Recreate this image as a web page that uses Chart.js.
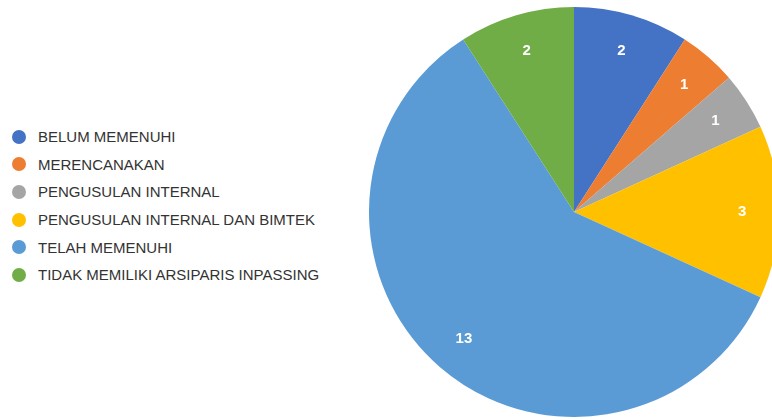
<!DOCTYPE html>
<html>
<head>
<meta charset="utf-8">
<script src="https://cdn.jsdelivr.net/npm/chart.js@4/dist/chart.umd.min.js"></script>
<style>
  html, body { margin: 0; padding: 0; width: 772px; height: 420px; overflow: hidden; background: #fff; }
  #legend { position: absolute; left: 12px; top: 123px; font-family: Arial, "Liberation Sans", sans-serif; font-size: 15px; color: #333; }
  #legend .item { height: 27.6px; display: flex; align-items: center; white-space: nowrap; }
  #legend .dot { width: 14px; height: 14px; border-radius: 50%; margin-right: 12px; flex: none; }
  #pie { position: absolute; left: 369px; top: 7px; }
</style>
</head>
<body>
<div id="legend"></div>
<canvas id="pie" width="410" height="410"></canvas>
<script>
const categories = [
    'BELUM MEMENUHI',
    'MERENCANAKAN',
    'PENGUSULAN INTERNAL',
    'PENGUSULAN INTERNAL DAN BIMTEK',
    'TELAH MEMENUHI',
    'TIDAK MEMILIKI ARSIPARIS INPASSING'
];
const counts = [2, 1, 1, 3, 13, 2];
const sliceColors = ['#4472C4', '#ED7D31', '#A5A5A5', '#FFC000', '#5B9BD5', '#70AD47'];

// legend on the left, built from the same arrays
const legendBox = document.getElementById('legend');
categories.forEach(function(name, i) {
    const row = document.createElement('div');
    row.className = 'item';
    const dot = document.createElement('span');
    dot.className = 'dot';
    dot.style.background = sliceColors[i];
    const txt = document.createElement('span');
    txt.textContent = name;
    row.appendChild(dot);
    row.appendChild(txt);
    legendBox.appendChild(row);
});

// white value labels inside each slice
const sliceLabels = {
    id: 'sliceLabels',
    afterDatasetsDraw(chart) {
        const ctx = chart.ctx;
        const meta = chart.getDatasetMeta(0);
        ctx.save();
        ctx.fillStyle = '#fff';
        ctx.font = 'bold 15px Arial, "Liberation Sans", sans-serif';
        ctx.textAlign = 'center';
        ctx.textBaseline = 'middle';
        meta.data.forEach(function(arc, i) {
            const p = arc.getProps(['x', 'y', 'startAngle', 'endAngle', 'outerRadius'], true);
            const mid = (p.startAngle + p.endAngle) / 2;
            const r = p.outerRadius * 0.82;
            ctx.fillText(String(counts[i]), p.x + Math.cos(mid) * r, p.y + Math.sin(mid) * r);
        });
        ctx.restore();
    }
};

const ctx_pie = document.getElementById('pie').getContext('2d');
const pieChart = new Chart(ctx_pie, {
    type: 'pie',
    data: {
        labels: categories,
        datasets: [{
            data: counts,
            backgroundColor: sliceColors,
            borderWidth: 0
        }]
    },
    options: {
        responsive: false,
        animation: false,
        layout: { padding: 0 },
        plugins: {
            legend: { display: false },
            tooltip: { enabled: false }
        }
    },
    plugins: [sliceLabels]
});
</script>
</body>
</html>
